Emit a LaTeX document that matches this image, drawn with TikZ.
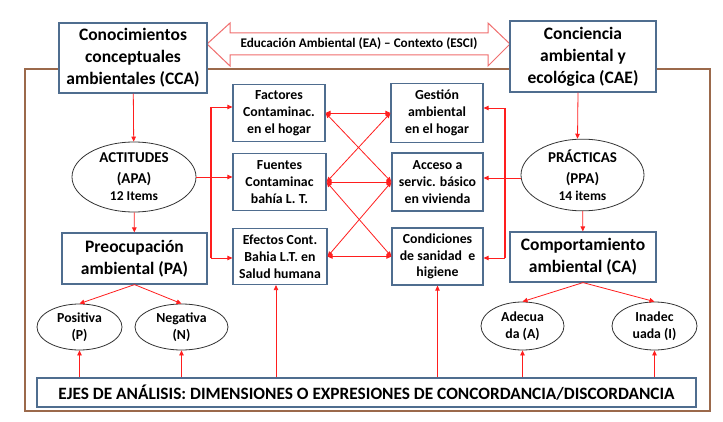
\documentclass[tikz,border=0pt]{standalone}
\usepackage{fontspec}
\setmainfont{Carlito}
\usetikzlibrary{shapes.geometric,arrows.meta}
\definecolor{boxb}{RGB}{79,109,143}
\definecolor{brn}{RGB}{155,105,75}
\definecolor{lred}{RGB}{240,110,110}
\definecolor{cr}{RGB}{255,30,30}
\begin{document}
\begin{tikzpicture}[x=1pt,y=-1pt,
 box/.style={draw=boxb,line width=1.2pt,fill=white,inner sep=0pt,align=center},
 ell/.style={ellipse,draw=black!80,line width=0.8pt,fill=white,inner sep=0pt,align=center},
 big/.style={font=\bfseries\fontsize{17.5}{22}\selectfont},
 sm/.style={font=\bfseries\fontsize{13.8}{16.8}\selectfont},
 mid/.style={font=\bfseries\fontsize{15}{21}\selectfont},
 arr/.style={draw=cr,line width=0.8pt,-{Triangle[length=5pt,width=4.5pt]}},
 darr/.style={draw=cr,line width=0.8pt,{Triangle[length=5pt,width=4.5pt]}-{Triangle[length=5pt,width=4.5pt]}},
 brk/.style={draw=cr,line width=2pt}
]
\useasboundingbox (0,0) rectangle (723,422);
\fill[white] (0,0) rectangle (723,422);
\draw[brn,line width=1.5pt] (25,69) rectangle (710,411);
% double arrow
\draw[lred,line width=1pt,fill=white] (207,44) -- (230,23) -- (230,33) -- (488,33) -- (488,23) -- (510,44) -- (488,66) -- (488,55) -- (230,55) -- (230,66) -- cycle;
\node[font=\bfseries\fontsize{13.2}{15}\selectfont] (ea) at (359,44) {Educación Ambiental (EA) – Contexto (ESCI)};
% boxes
\node[box,big,minimum width=148pt,minimum height=70pt] (cca) at (133,58) {Conocimientos\\conceptuales\\ambientales (CCA)};
\node[box,big,minimum width=146pt,minimum height=71pt] (cae) at (583,56.5) {Conciencia\\ambiental y\\ecológica (CAE)};
\node[box,sm,minimum width=92pt,minimum height=57pt] (fac) at (279,113) {Factores\\Contaminac.\\en el hogar};
\node[box,sm,minimum width=92pt,minimum height=59pt] (ges) at (437,113) {Gestión\\ambiental\\en el hogar};
\node[box,sm,minimum width=93pt,minimum height=57pt] (fue) at (279.5,182) {Fuentes\\Contaminac\\bahía L. T.};
\node[box,sm,minimum width=91pt,minimum height=58pt] (acc) at (437.5,182) {Acceso a\\servic. básico\\en vivienda};
\node[box,sm,minimum width=94pt,minimum height=56pt] (efe) at (280,256.5) {Efectos Cont.\\Bahia L.T. en\\Salud humana};
\node[box,sm,minimum width=91pt,minimum height=57pt] (con) at (437.5,256.5) {Condiciones\\de sanidad\ \ e\\higiene};
\node[ell,mid,minimum width=124pt,minimum height=70pt] (apa) at (134,177) {ACTITUDES\\(APA)\\[-4pt]{\fontsize{13.5}{16}\selectfont 12 Items}};
\node[ell,mid,minimum width=123pt,minimum height=70pt] (ppa) at (582.5,175) {PRÁCTICAS\\(PPA)\\[-4pt]{\fontsize{13.5}{16}\selectfont 14 items}};
\node[box,big,minimum width=145pt,minimum height=51pt] (pa) at (134.5,258.5) {Preocupación\\ambiental (PA)};
\node[box,big,minimum width=146pt,minimum height=50pt] (ca) at (583,257) {Comportamiento\\ambiental (CA)};
\node[ell,sm,minimum width=85pt,minimum height=46pt] (pos) at (79.5,327) {Positiva\\(P)};
\node[ell,sm,minimum width=93pt,minimum height=46pt] (neg) at (181.5,327) {Negativa\\(N)};
\node[ell,sm,minimum width=83pt,minimum height=48pt] (ade) at (522.5,326) {Adecua\\da (A)};
\node[ell,sm,minimum width=85pt,minimum height=48pt] (ina) at (654.5,326) {Inadec\\uada (I)};
\node[box,font=\bfseries\fontsize{17.3}{20}\selectfont,minimum width=659pt,minimum height=29pt] (ejes) at (366.5,392.5) {EJES DE ANÁLISIS: DIMENSIONES O EXPRESIONES DE CONCORDANCIA/DISCORDANCIA};
% vertical flow
\draw[arr] (cca) -- (apa);
\draw[arr] (apa) -- (pa);
\draw[arr] (pa.south) -- (pos.north);
\draw[arr] (pa.south) -- (neg.north);
\draw[arr] ([xshift=-5pt]cae.south) -- ([xshift=-5pt]ppa.north);
\draw[arr] (ppa) -- (ca);
\draw[arr] (ca.south) -- (ade.north);
\draw[arr] (ca.south) -- (ina.north);
% from ejes
\draw[arr] (ejes.north -| pos) -- (pos.south);
\draw[arr] (ejes.north -| neg) -- (neg.south);
\draw[arr] ([xshift=-4pt]ejes.north -| efe) -- ([xshift=-4pt]efe.south);
\draw[arr] (ejes.north -| con) -- (con.south);
\draw[arr] (ejes.north -| ade) -- (ade.south);
\draw[arr] (ejes.north -| ina) -- (ina.south);
% left bracket
\coordinate (lt) at (211,107);
\coordinate (lb) at (211,258);
\draw[brk] (lt) -- (lb);
\draw[arr] (lt) -- (lt -| fac.west);
\draw[arr] (lb) -- (lb -| efe.west);
\draw[arr] (apa.east) -- (apa.east -| fue.west);
% right bracket
\coordinate (rt) at (505,108);
\coordinate (rb) at (505,258);
\draw[brk] (rt) -- (rb);
\draw[arr] (rt) -- (rt -| ges.east);
\draw[arr] (rb) -- (rb -| con.east);
\draw[arr] ([yshift=-3pt]ppa.west) -- ([yshift=-3pt]ppa.west -| acc.east);
% cross links
\draw[darr] (fac.east) -- (ges.west);
\draw[darr] (fac.east) -- (acc.west);
\draw[darr] (fue.east) -- (ges.west);
\draw[darr] (fue.east) -- (acc.west);
\draw[darr] (fue.east) -- (con.west);
\draw[darr] (efe.east) -- (acc.west);
\draw[darr] (efe.east) -- (con.west);
\end{tikzpicture}
\end{document}
